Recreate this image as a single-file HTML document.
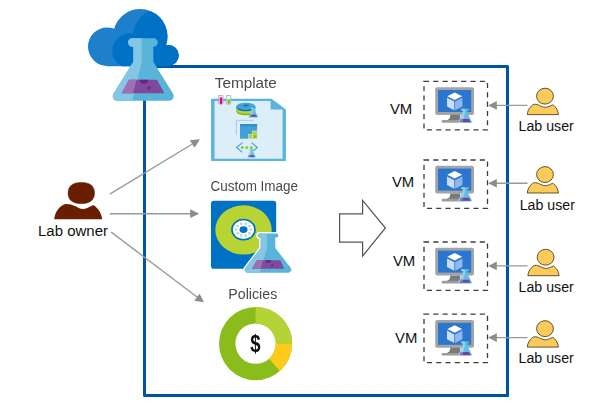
<!DOCTYPE html>
<html>
<head>
<meta charset="utf-8">
<title>Lab diagram</title>
<style>
html,body{margin:0;padding:0;background:#fff;}
body{width:600px;height:414px;overflow:hidden;position:relative;font-family:"Liberation Sans",sans-serif;}
svg{position:absolute;left:0;top:0;display:block;}
text{font-family:"Liberation Sans",sans-serif;}
.lbl{fill:#4a4a4a;font-size:15.5px;}
.gs{will-change:transform;}
.blk{fill:#111;font-size:15.5px;}
</style>
</head>
<body>
<svg width="600" height="414" viewBox="0 0 600 414">
<defs>
  <!-- small flask: origin = centre of base bottom; height 14, base width 14 -->
  <g id="flaskS">
    <path d="M-3.100,-14.200 h6.200 a0.900,0.900 0 0 1 0,1.800 h-0.900 v2.400 l4.400,8.600 a0.950,0.950 0 0 1 -0.850,1.400 h-11.500 a0.950,0.950 0 0 1 -0.850,-1.400 l4.400,-8.600 v-2.400 h-0.900 a0.900,0.900 0 0 1 0,-1.800 z" fill="#5CC0E6"/>
    <path d="M-3.100,-14.200 h2.800 v4.400 l-2.200,9.800 h-3.250 a0.950,0.950 0 0 1 -0.850,-1.400 l4.400,-8.600 v-2.400 h-0.900 a0.900,0.900 0 0 1 0,-1.800 z" fill="#92D3EE"/>
    <path d="M-3.900,-3.800 h7.800 l1.500,3 h-10.800 z" fill="#7E3F9B"/>
    <path d="M-3.900,-3.800 h2.200 l-0.700,3 h-3 z" fill="#9D6BB6"/>
  </g>
  <!-- VM row: origin x=0 absolute, y = dashed box top -->
  <g id="vmrow">
    <rect x="424" y="0.600" width="63.500" height="48.400" fill="none" stroke="#3c3c3c" stroke-width="1.300" stroke-dasharray="5.100 4.200"/>
    <!-- monitor -->
    <rect x="435.200" y="6.400" width="38.800" height="27.700" rx="2" fill="#A3A4A5"/>
    <rect x="438" y="9.200" width="33.200" height="22" fill="#2B77D0"/>
    <path d="M450.300,34 H460.200 V39.600 H446.500 C449.300,38.800 450.300,37.200 450.300,34 z" fill="#7A7A7A"/>
    <rect x="441.700" y="39.300" width="18.600" height="2.700" rx="1" fill="#9C9C9C"/>
    <circle cx="454.400" cy="7.800" r="0.550" fill="#B8D432"/>
    <!-- cube -->
    <path d="M454.700,11.600 l7.400,3.800 l-7.400,3.800 l-7.400,-3.800 z" fill="#fff"/>
    <path d="M447,17 l7.300,3.800 v8.600 l-7.300,-3.800 z" fill="#C9DDF5"/>
    <path d="M462.400,17 l-7.300,3.800 v8.600 l7.300,-3.800 z" fill="#91B8EC"/>
    <use href="#flaskS" x="465.100" y="42.100"/>
    </g>
  <g id="uarrow">
    <line x1="495" y1="0" x2="527.500" y2="0" stroke="#9a9a9a" stroke-width="1.400"/>
    <path d="M488.200,0 l8.600,-4.300 v8.600 z" fill="#8c8c8c"/>
  </g>
  <g id="usr">
    <path d="M527.300,33.800 C527.600,31 528.300,28.500 530.700,26 C531.800,24.600 533,23.700 534.400,23.500 C536.300,23.300 538,24 539.400,24.600 C541.500,25.600 543.300,26.500 545.400,26.500 C548,26.500 550.300,25 552.300,24.200 C553.300,24.100 554,24.700 554.600,25.500 C556,26.800 556.900,28.300 557.400,29.700 C558,31.200 558.300,32.500 558.500,33.800 z" fill="#FCCB5A" stroke="#3a3018" stroke-width="0.800" stroke-linejoin="round"/>
    <ellipse cx="545" cy="15.350" rx="8.400" ry="7.950" fill="#FCCB5A" stroke="#3a3018" stroke-width="0.800"/>
  </g>
</defs>

<!-- main box -->
<rect x="144.500" y="66.500" width="363" height="329" fill="none" stroke="#0054A6" stroke-width="3" stroke-linejoin="round"/>

<!-- cloud -->
<clipPath id="cloudClip">
  <circle cx="107.200" cy="46.700" r="19.200"/>
  <circle cx="140.300" cy="36.300" r="27.200"/>
  <circle cx="168.400" cy="55.400" r="10.400"/>
  <rect x="107" y="45" width="61.400" height="21.200"/>
</clipPath>
<g clip-path="url(#cloudClip)">
  <rect x="80" y="0" width="110" height="70" fill="#1E80CC"/>
  <circle cx="163.300" cy="38.300" r="31" fill="#0072C6"/>
  <circle cx="129.700" cy="50.800" r="17.500" fill="#0072C6"/>
  <circle cx="168.400" cy="55.400" r="10.400" fill="#0072C6"/>
</g>

<!-- big flask -->
<g id="flaskB">
  <path id="fbOut" d="M132.200,38.300 H153.600 a4.200,4.200 0 0 1 0,8.400 H153.300 V61.700 L173.110,93.840 A4.500,4.500 0 0 1 169.300,100.700 H117.200 A4.500,4.500 0 0 1 113.390,93.840 L133.300,61.700 V46.700 H132.200 a4.200,4.200 0 0 1 0,-8.400 z" fill="#59B4D9"/>
  <path d="M132.200,38.300 H141.700 V62 L132.300,100.700 H117.200 A4.500,4.500 0 0 1 113.390,93.840 L133.300,61.700 V46.700 H132.200 a4.200,4.200 0 0 1 0,-8.400 z" fill="#84C6E4"/>
  <path d="M129,79.700 h28 l7.300,13.600 h-42.600 z" fill="#7E4A9B"/>
  <path d="M129,79.700 h7.600 l-3.600,13.600 h-11.300 z" fill="#9D70B4"/>
  <path d="M140,79.700 a4,4 0 0 0 8,0 z" fill="#6B2383"/>
  <circle cx="149" cy="88" r="2" fill="#762C8E"/>
</g>

<!-- owner arrows -->
<g stroke="#9a9a9a" stroke-width="1.400" fill="none">
  <line x1="109.800" y1="194.200" x2="194" y2="143"/>
  <line x1="109.800" y1="213.700" x2="192" y2="213.700"/>
  <line x1="111.200" y1="232.100" x2="198" y2="297.700"/>
</g>
<g fill="#8c8c8c">
  <path d="M200,139.300 L189.800,140.300 L194.600,147.800 z"/>
  <path d="M199.200,213.700 l-9,-4.400 v8.800 z"/>
  <path d="M204,302.200 L199.600,293.700 L194.200,300.700 z"/>
</g>

<!-- owner icon -->
<g fill="#6B1D00">
  <path d="M54.200,219.300 C54.600,215.500 56,211.500 58.500,208.800 C60.500,206.300 63,204.500 65.900,204 C69,203.800 72,204.800 74.400,205.800 C77.500,207.200 80,209 82.900,209 C86,209 89.500,206.500 92.500,205.400 C93.800,205.200 94.800,205.800 95.600,206.700 C97.500,208.300 99,210.200 99.900,212 C101.200,214.600 101.900,217 102.200,219.300 z"/>
  <path d="M68.10,193.00 C68.10,186.00 72.59,182.40 81.30,182.40 C90.01,182.40 94.50,186.00 94.50,193.00 C94.50,200.00 90.01,203.60 81.30,203.60 C72.59,203.60 68.10,200.00 68.10,193.00 z" stroke="#3a1a12" stroke-width="0.500"/>
</g>
<text class="blk" x="38" y="236" textLength="70" lengthAdjust="spacingAndGlyphs">Lab owner</text>

<!-- big arrow -->
<path d="M339.600,213.900 H362.600 V200.300 L385.400,228 L362.600,256.100 V242.200 H339.600 z" fill="#fff" stroke="#555" stroke-width="1.200" stroke-linejoin="miter"/>

<!-- Template -->
<g id="tmpl">
  <path d="M211.100,98.700 H271.600 L285.900,109.400 V160.900 H211.100 z" fill="#59B4D9"/>
  <path d="M214.500,101 H270.600 V109.600 H282.600 V158.800 H214.500 z" fill="#DCEEF7"/>
  <!-- test tubes -->
  <path d="M218.600,95.500 h4.400 v7.900 a2.200,1 0 0 1 -4.400,0 z" fill="#f6f6f6" stroke="#a8a8a8" stroke-width="0.800"/>
  <path d="M219.700,97.600 h2.600 v5.700 a1.300,0.600 0 0 1 -2.600,0 z" fill="#E4008C"/>
  <path d="M226.300,95.500 h4.400 v7.900 a2.200,1 0 0 1 -4.400,0 z" fill="#f6f6f6" stroke="#a8a8a8" stroke-width="0.800"/>
  <path d="M227.400,99.200 h2.600 v4.100 a1.300,0.600 0 0 1 -2.600,0 z" fill="#7FC241"/>
  <!-- disk stack -->
  <path d="M236.300,110 v1.600 a9.500,3.600 0 0 0 19,0 v-1.600 z" fill="#7FBA00"/>
  <path d="M236.300,108 v2.100 a9.500,3.600 0 0 0 19,0 v-2.100 z" fill="#B8D432"/>
  <path d="M236.300,106.300 v1.300 a9.500,3.600 0 0 0 19,0 v-1.300 z" fill="#0072C6"/>
  <ellipse cx="245.800" cy="106.300" rx="9.500" ry="3.600" fill="#46A3DA"/>
  <ellipse cx="246.200" cy="105.600" rx="3" ry="1" fill="#0A78CC"/>
  <g transform="translate(253.300,117.400) scale(0.680)"><use href="#flaskS"/></g>
  <!-- window with blocks -->
  <path d="M253.800,120.400 H236.400 V135.100" fill="none" stroke="#9CCBE6" stroke-width="0.900"/>
  <rect x="240" y="124" width="17.100" height="14.700" fill="#41A0D6"/>
  <rect x="240" y="124" width="17.100" height="2.400" fill="#2F8FCA"/>
  <rect x="248.500" y="134.500" width="4" height="4.200" fill="#B5D334" stroke="#DCEDF8" stroke-width="0.500"/>
  <rect x="252.700" y="131" width="4.400" height="7.700" fill="#B5D334" stroke="#DCEDF8" stroke-width="0.500"/>
  <rect x="253.600" y="135.200" width="2.800" height="2.800" fill="#8FBF1A"/>
  <!-- <...> -->
  <path d="M242.400,142.700 L236.600,147.500 L242.400,152.400" fill="none" stroke="#41A0D6" stroke-width="1.100"/>
  <path d="M251.600,142.700 L257.400,147.500 L253.500,150.800" fill="none" stroke="#41A0D6" stroke-width="1.100"/>
  <circle cx="242.300" cy="147.500" r="1.500" fill="#8CC63F"/>
  <circle cx="246.800" cy="147.500" r="1.500" fill="#8CC63F"/>
  <circle cx="251.400" cy="147.500" r="1.500" fill="#8CC63F"/>
  <g transform="translate(251.600,157.400) scale(0.580)"><use href="#flaskS"/></g>
</g>

<!-- Custom Image -->
<g id="cimg">
  <rect x="211" y="200.700" width="65.200" height="68" rx="2.800" fill="#0072C6"/>
  <ellipse cx="243.500" cy="229.900" rx="28.200" ry="24.600" fill="#B8D432"/>
  <ellipse cx="243.500" cy="229.600" rx="12.400" ry="10.900" fill="#0072C6"/>
  <ellipse cx="243.500" cy="229.600" rx="10.700" ry="9.400" fill="#fff"/>
  <circle cx="250.80" cy="229.60" r="1.200" fill="#A9CDEB"/>
  <circle cx="249.41" cy="233.24" r="1.200" fill="#A9CDEB"/>
  <circle cx="245.76" cy="235.50" r="1.200" fill="#A9CDEB"/>
  <circle cx="241.24" cy="235.50" r="1.200" fill="#A9CDEB"/>
  <circle cx="237.59" cy="233.24" r="1.200" fill="#A9CDEB"/>
  <circle cx="236.20" cy="229.60" r="1.200" fill="#A9CDEB"/>
  <circle cx="237.59" cy="225.96" r="1.200" fill="#A9CDEB"/>
  <circle cx="241.24" cy="223.70" r="1.200" fill="#A9CDEB"/>
  <circle cx="245.76" cy="223.70" r="1.200" fill="#A9CDEB"/>
  <circle cx="249.41" cy="225.96" r="1.200" fill="#A9CDEB"/>
  <ellipse cx="243.500" cy="229.600" rx="4" ry="3.400" fill="#0072C6"/>
  <!-- flask with white outline -->
  <path d="M259.70,233.50 H276.30 a2.05,2.05 0 0 1 0,4.10 H275.30 V248.00 L290.63,267.87 A3.0,3.0 0 0 1 288.25,272.70 H247.75 A3.0,3.0 0 0 1 245.37,267.87 L260.70,248.00 V237.60 H259.70 a2.05,2.05 0 0 1 0,-4.10 z" fill="#59B4D9" stroke="#fff" stroke-width="3" stroke-linejoin="round"/>
  <path d="M259.70,233.50 H276.30 a2.05,2.05 0 0 1 0,4.10 H275.30 V248.00 L290.63,267.87 A3.0,3.0 0 0 1 288.25,272.70 H247.75 A3.0,3.0 0 0 1 245.37,267.87 L260.70,248.00 V237.60 H259.70 a2.05,2.05 0 0 1 0,-4.10 z" fill="#59B4D9"/>
  <path d="M259.70,233.50 H267.00 V248.00 L259.50,272.70 H247.75 A3.0,3.0 0 0 1 245.37,267.87 L260.70,248.00 V237.60 H259.70 a2.05,2.05 0 0 1 0,-4.10 z" fill="#84C6E4"/>
  <path d="M257,260.200 H280.200 L284.200,268.700 H252 z" fill="#7E4A9B"/>
  <path d="M257,260.200 H263.300 L260.700,268.700 H252 z" fill="#9D70B4"/>
  <path d="M265.500,260.200 a2.800,2.600 0 0 0 5.600,0 z" fill="#6B2383"/>
  <circle cx="272.300" cy="265.200" r="1.300" fill="#762C8E"/>
</g>

<!-- Policies -->
<g id="donut">
  <circle cx="255.6" cy="343.6" r="36.6" fill="#8ABD1C"/>
  <circle cx="255.6" cy="343.6" r="20.2" fill="#fff"/>
  <path d="M255.60,307.00 A36.6,36.6 0 0 1 292.20,343.60 L275.80,343.60 A20.2,20.2 0 0 0 255.60,323.40 z" fill="#B4D334"/>
  <path d="M292.20,343.60 A36.6,36.6 0 0 1 279.85,371.01 L268.98,358.73 A20.2,20.2 0 0 0 275.80,343.60 z" fill="#FDCB1B"/>
</g>

<use href="#vmrow" x="0" y="80.8"/>
<use href="#uarrow" x="0" y="105.4"/>
<use href="#usr" x="0" y="80.8"/>
<text class="blk" x="389.9" y="114.0" textLength="22.3" lengthAdjust="spacingAndGlyphs">VM</text>
<text class="blk" x="518.6" y="130.5" textLength="55.2" lengthAdjust="spacingAndGlyphs">Lab user</text>
<use href="#vmrow" x="0" y="159.4"/>
<use href="#uarrow" x="0" y="183.3"/>
<use href="#usr" x="0" y="159.2"/>
<text class="blk" x="391.9" y="187.0" textLength="22.3" lengthAdjust="spacingAndGlyphs">VM</text>
<text class="blk" x="519.7" y="209.7" textLength="55.2" lengthAdjust="spacingAndGlyphs">Lab user</text>
<use href="#vmrow" x="0" y="241.4"/>
<use href="#uarrow" x="0" y="265.9"/>
<use href="#usr" x="0.6" y="241.9"/>
<text class="blk" x="392.9" y="265.6" textLength="22.3" lengthAdjust="spacingAndGlyphs">VM</text>
<text class="blk" x="518.6" y="292.0" textLength="55.2" lengthAdjust="spacingAndGlyphs">Lab user</text>
<use href="#vmrow" x="0" y="313.6"/>
<use href="#uarrow" x="0" y="337.6"/>
<use href="#usr" x="0" y="313.3"/>
<text class="blk" x="395.1" y="343.0" textLength="22.3" lengthAdjust="spacingAndGlyphs">VM</text>
<text class="blk" x="518.6" y="362.8" textLength="55.2" lengthAdjust="spacingAndGlyphs">Lab user</text>
</svg>
<svg class="gs" width="600" height="414" viewBox="0 0 600 414">
<text class="lbl" x="214.800" y="88" textLength="62" lengthAdjust="spacingAndGlyphs">Template</text>
<text class="lbl" x="210.500" y="191.200" textLength="87.500" lengthAdjust="spacingAndGlyphs">Custom Image</text>
<text class="lbl" x="228.300" y="298.600" textLength="49" lengthAdjust="spacingAndGlyphs">Policies</text>
<text transform="translate(255.300,351.700) scale(0.880,1.150)" x="0" y="0" text-anchor="middle" font-size="21" font-weight="bold" fill="#111">$</text>
</svg>
</body>
</html>
